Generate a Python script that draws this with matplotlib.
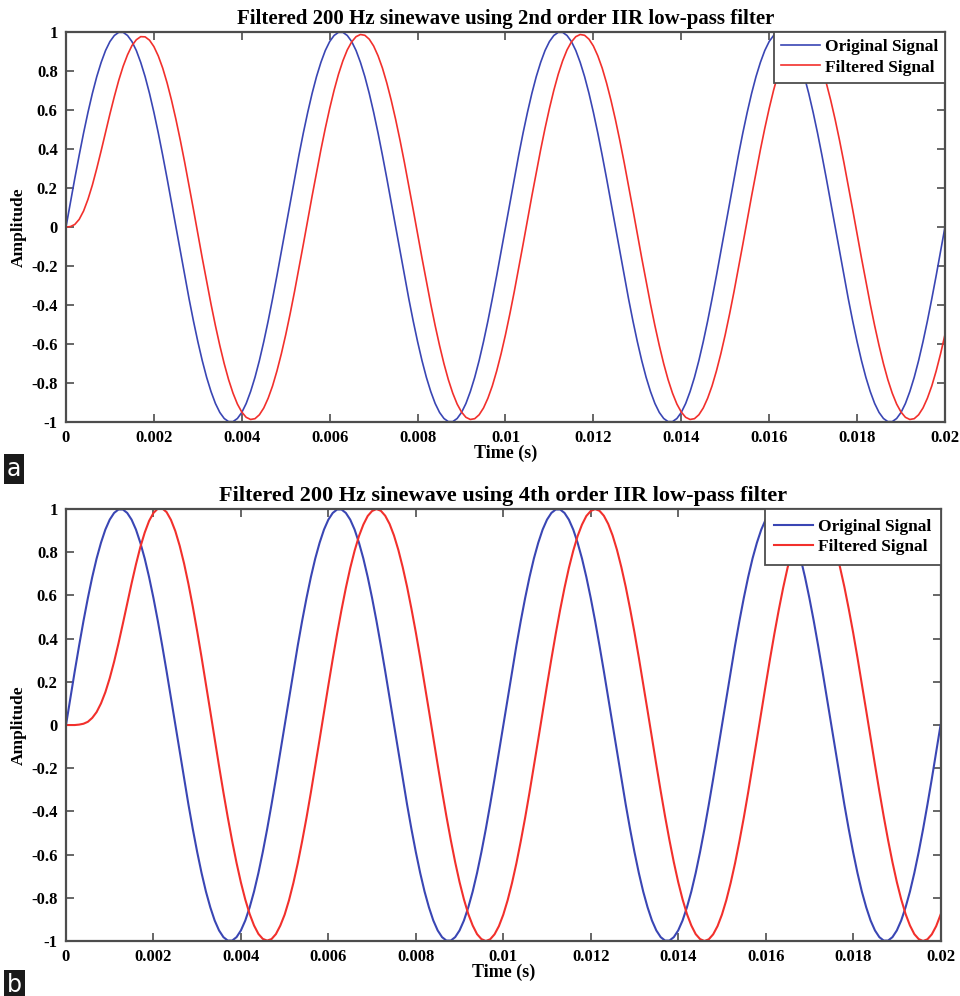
import numpy as np
import matplotlib.pyplot as plt

# samples, one every 0.1 ms from 0 to 0.02 s
sample_step = 0.0001

# 200 Hz input sinewave (same in both panels)
original_signal = [
    0, 0.125, 0.249, 0.368, 0.482, 0.588, 0.685, 0.771, 0.844, 0.905, 0.951, 0.982, 0.998,
    0.998, 0.982, 0.951, 0.905, 0.844, 0.771, 0.685, 0.588, 0.482, 0.368, 0.249, 0.125,
    0, -0.125, -0.249, -0.368, -0.482, -0.588, -0.685, -0.771, -0.844, -0.905, -0.951, -0.982, -0.998,
    -0.998, -0.982, -0.951, -0.905, -0.844, -0.771, -0.685, -0.588, -0.482, -0.368, -0.249, -0.125,
    0, 0.125, 0.249, 0.368, 0.482, 0.588, 0.685, 0.771, 0.844, 0.905, 0.951, 0.982, 0.998,
    0.998, 0.982, 0.951, 0.905, 0.844, 0.771, 0.685, 0.588, 0.482, 0.368, 0.249, 0.125,
    0, -0.125, -0.249, -0.368, -0.482, -0.588, -0.685, -0.771, -0.844, -0.905, -0.951, -0.982, -0.998,
    -0.998, -0.982, -0.951, -0.905, -0.844, -0.771, -0.685, -0.588, -0.482, -0.368, -0.249, -0.125,
    0, 0.125, 0.249, 0.368, 0.482, 0.588, 0.685, 0.771, 0.844, 0.905, 0.951, 0.982, 0.998,
    0.998, 0.982, 0.951, 0.905, 0.844, 0.771, 0.685, 0.588, 0.482, 0.368, 0.249, 0.125,
    0, -0.125, -0.249, -0.368, -0.482, -0.588, -0.685, -0.771, -0.844, -0.905, -0.951, -0.982, -0.998,
    -0.998, -0.982, -0.951, -0.905, -0.844, -0.771, -0.685, -0.588, -0.482, -0.368, -0.249, -0.125,
    0, 0.125, 0.249, 0.368, 0.482, 0.588, 0.685, 0.771, 0.844, 0.905, 0.951, 0.982, 0.998,
    0.998, 0.982, 0.951, 0.905, 0.844, 0.771, 0.685, 0.588, 0.482, 0.368, 0.249, 0.125,
    0, -0.125, -0.249, -0.368, -0.482, -0.588, -0.685, -0.771, -0.844, -0.905, -0.951, -0.982, -0.998,
    -0.998, -0.982, -0.951, -0.905, -0.844, -0.771, -0.685, -0.588, -0.482, -0.368, -0.249, -0.125,
    0,
]

# output of the 2nd order filter (panel a)
filtered_2nd = [
    0, 0.002, 0.013, 0.039, 0.082, 0.142, 0.215, 0.300, 0.391, 0.486, 0.580, 0.669, 0.752,
    0.824, 0.883, 0.930, 0.960, 0.976, 0.975, 0.958, 0.925, 0.877, 0.815, 0.739, 0.651,
    0.553, 0.446, 0.332, 0.212, 0.090, -0.035, -0.159, -0.279, -0.396, -0.506, -0.608, -0.701, -0.783,
    -0.852, -0.908, -0.949, -0.976, -0.987, -0.983, -0.963, -0.928, -0.878, -0.815, -0.738, -0.650,
    -0.552, -0.445, -0.331, -0.211, -0.089, 0.035, 0.159, 0.279, 0.396, 0.506, 0.608, 0.701, 0.783,
    0.852, 0.908, 0.949, 0.976, 0.987, 0.983, 0.963, 0.928, 0.878, 0.815, 0.738, 0.650,
    0.552, 0.445, 0.331, 0.211, 0.089, -0.035, -0.159, -0.279, -0.396, -0.506, -0.608, -0.701, -0.783,
    -0.852, -0.908, -0.949, -0.976, -0.987, -0.983, -0.963, -0.928, -0.878, -0.815, -0.738, -0.650,
    -0.552, -0.445, -0.331, -0.211, -0.089, 0.035, 0.159, 0.279, 0.396, 0.506, 0.608, 0.701, 0.783,
    0.852, 0.908, 0.949, 0.976, 0.987, 0.983, 0.963, 0.928, 0.878, 0.815, 0.738, 0.650,
    0.552, 0.445, 0.331, 0.211, 0.089, -0.035, -0.159, -0.279, -0.396, -0.506, -0.608, -0.701, -0.783,
    -0.852, -0.908, -0.949, -0.976, -0.987, -0.983, -0.963, -0.928, -0.878, -0.815, -0.738, -0.650,
    -0.552, -0.445, -0.331, -0.211, -0.089, 0.035, 0.159, 0.279, 0.396, 0.506, 0.608, 0.701, 0.783,
    0.852, 0.908, 0.949, 0.976, 0.987, 0.983, 0.963, 0.928, 0.878, 0.815, 0.738, 0.650,
    0.552, 0.445, 0.331, 0.211, 0.089, -0.035, -0.159, -0.279, -0.396, -0.506, -0.608, -0.701, -0.783,
    -0.852, -0.908, -0.949, -0.976, -0.987, -0.983, -0.963, -0.928, -0.878, -0.815, -0.738, -0.650,
    -0.552,
]

# output of the 4th order filter (panel b)
filtered_4th = [
    0, 0, 0, 0.002, 0.006, 0.015, 0.033, 0.060, 0.100, 0.152, 0.217, 0.293, 0.378,
    0.469, 0.563, 0.656, 0.744, 0.824, 0.891, 0.945, 0.982, 1.002, 1.003, 0.986, 0.950,
    0.898, 0.830, 0.748, 0.653, 0.548, 0.434, 0.314, 0.189, 0.063, -0.065, -0.190, -0.312, -0.428,
    -0.537, -0.638, -0.729, -0.808, -0.875, -0.928, -0.967, -0.990, -0.998, -0.991, -0.968, -0.929,
    -0.878, -0.811, -0.731, -0.640, -0.538, -0.429, -0.312, -0.190, -0.066, 0.060, 0.184, 0.306, 0.423,
    0.533, 0.635, 0.727, 0.807, 0.875, 0.928, 0.968, 0.991, 1.000, 0.992, 0.969, 0.931,
    0.878, 0.811, 0.731, 0.640, 0.538, 0.429, 0.312, 0.190, 0.066, -0.060, -0.184, -0.306, -0.423,
    -0.533, -0.635, -0.727, -0.807, -0.875, -0.928, -0.968, -0.991, -1.000, -0.992, -0.969, -0.931,
    -0.878, -0.811, -0.731, -0.640, -0.538, -0.429, -0.312, -0.190, -0.066, 0.060, 0.184, 0.306, 0.423,
    0.533, 0.635, 0.727, 0.807, 0.875, 0.928, 0.968, 0.991, 1.000, 0.992, 0.969, 0.931,
    0.878, 0.811, 0.731, 0.640, 0.538, 0.429, 0.312, 0.190, 0.066, -0.060, -0.184, -0.306, -0.423,
    -0.533, -0.635, -0.727, -0.807, -0.875, -0.928, -0.968, -0.991, -1.000, -0.992, -0.969, -0.931,
    -0.878, -0.811, -0.731, -0.640, -0.538, -0.429, -0.312, -0.190, -0.066, 0.060, 0.184, 0.306, 0.423,
    0.533, 0.635, 0.727, 0.807, 0.875, 0.928, 0.968, 0.991, 1.000, 0.992, 0.969, 0.931,
    0.878, 0.811, 0.731, 0.640, 0.538, 0.429, 0.312, 0.190, 0.066, -0.060, -0.184, -0.306, -0.423,
    -0.533, -0.635, -0.727, -0.807, -0.875, -0.928, -0.968, -0.991, -1.000, -0.992, -0.969, -0.931,
    -0.878,
]

x_ticks = [0, 0.002, 0.004, 0.006, 0.008, 0.01, 0.012, 0.014, 0.016, 0.018, 0.02]
x_labels = ['0', '0.002', '0.004', '0.006', '0.008', '0.01', '0.012', '0.014', '0.016', '0.018', '0.02']
y_ticks = [-1, -0.8, -0.6, -0.4, -0.2, 0, 0.2, 0.4, 0.6, 0.8, 1]
y_labels = ['-1', '-0.8', '-0.6', '-0.4', '-0.2', '0', '0.2', '0.4', '0.6', '0.8', '1']

titles = ['Filtered 200 Hz sinewave using 2nd order IIR low-pass filter',
          'Filtered 200 Hz sinewave using 4th order IIR low-pass filter']

t = np.arange(len(original_signal)) * sample_step

plt.rcParams['font.family'] = ['Liberation Serif', 'DejaVu Serif']
plt.rcParams['font.weight'] = 'bold'

blue = '#3a46b4'
red = '#f2302c'
frame = '#4d4d4d'

fig = plt.figure(figsize=(9.6, 9.96), dpi=100)
ax_a = fig.add_axes([0.06875, 0.5763, 0.9156, 0.3916])
ax_b = fig.add_axes([0.06875, 0.0552, 0.911, 0.4337])


def draw_panel(ax, filtered, title, title_size, lw, leg_pad):
    ax.plot(t, original_signal, color=blue, lw=lw, label='Original Signal')
    ax.plot(t, filtered, color=red, lw=lw, label='Filtered Signal')
    ax.set_xlim(0, 0.02)
    ax.set_ylim(-1, 1)
    ax.set_xticks(x_ticks)
    ax.set_xticklabels(x_labels)
    ax.set_yticks(y_ticks)
    ax.set_yticklabels(y_labels)
    ax.tick_params(direction='in', length=6, width=1.2, color=frame, labelsize=12,
                   top=True, right=True, pad=6)
    for s in ax.spines.values():
        s.set_color(frame)
        s.set_linewidth(1.6)
    ax.set_title(title, fontsize=title_size, fontweight='bold', pad=6)
    ax.set_xlabel('Time (s)', fontsize=13, fontweight='bold', labelpad=-1)
    ax.set_ylabel('Amplitude', fontsize=12.5, fontweight='bold', labelpad=3)
    leg = ax.legend(loc='upper right', borderaxespad=0, fancybox=False, framealpha=1,
                    edgecolor=frame, fontsize=12.5, handlelength=2.2, handletextpad=0.3,
                    borderpad=leg_pad, labelspacing=0.25)
    leg.get_frame().set_linewidth(1.3)


draw_panel(ax_a, filtered_2nd, titles[0], 15, 1.2, 0.4)
draw_panel(ax_b, filtered_4th, titles[1], 16, 1.5, 0.55)

# panel letters
fig.text(0.007, 0.522, 'a', color='white', fontsize=17, family='DejaVu Sans', fontweight='normal',
         bbox=dict(facecolor='#1a1a1a', edgecolor='none', boxstyle='square,pad=0.12'))
fig.text(0.007, 0.004, 'b', color='white', fontsize=17, family='DejaVu Sans', fontweight='normal',
         bbox=dict(facecolor='#1a1a1a', edgecolor='none', boxstyle='square,pad=0.12'))

fig.savefig('out.png', dpi=100)
